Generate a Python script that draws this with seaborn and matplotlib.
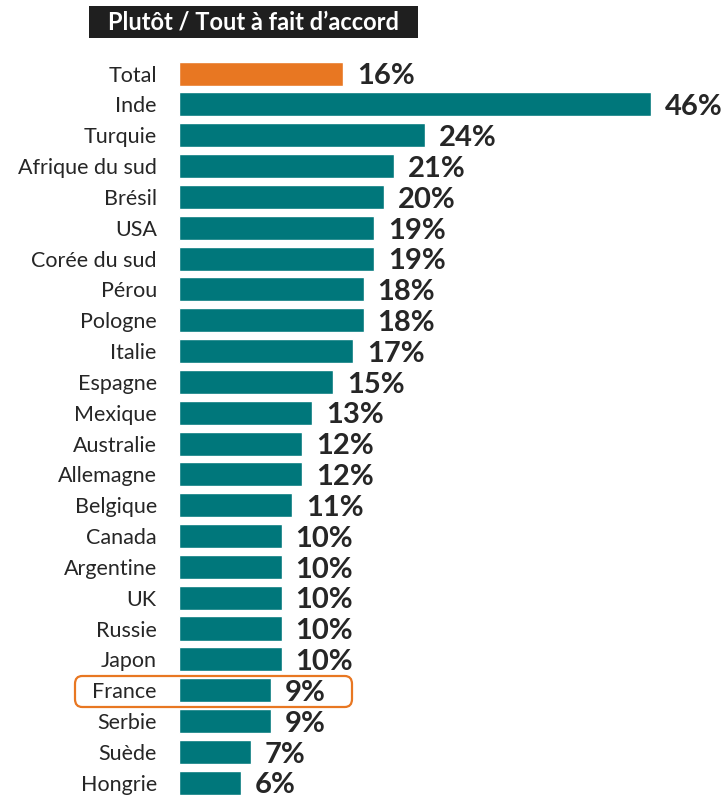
import matplotlib
matplotlib.use("Agg")
import matplotlib.pyplot as plt
from matplotlib.patches import FancyBboxPatch, Rectangle
import seaborn as sns
import pandas as pd

TITLE = "Plutôt / Tout à fait d’accord"
countries = ["Total", "Inde", "Turquie", "Afrique du sud", "Brésil", "USA", "Corée du sud",
             "Pérou", "Pologne", "Italie", "Espagne", "Mexique", "Australie", "Allemagne",
             "Belgique", "Canada", "Argentine", "UK", "Russie", "Japon", "France", "Serbie",
             "Suède", "Hongrie"]
values = [16, 46, 24, 21, 20, 19, 19, 18, 18, 17, 15, 13, 12, 12, 11, 10, 10, 10, 10, 10, 9, 9, 7, 6]

TEAL = "#00777B"
ORANGE = "#E87722"
TEXT = "#262626"

sns.set_style("white")
plt.rcParams['font.family'] = ['Lato', 'DejaVu Sans']

df = pd.DataFrame({'Pays': countries, 'Valeur': values})
palette = [ORANGE if c == "Total" else TEAL for c in countries]

fig = plt.figure(figsize=(7.25, 7.95), dpi=100)
ax = fig.add_axes([179 / 725, 0.0, 546 / 725, 0.9307])
sns.barplot(data=df, x='Valeur', y='Pays', hue='Pays', palette=palette, legend=False,
            width=0.78, saturation=1, ax=ax)

ax.set_xlim(0, 546 / 10.26)
ax.set_ylim(len(countries) - 0.6, -0.6)
ax.set_xticks([])
ax.set_xlabel("")
ax.set_ylabel("")
for s in ax.spines.values():
    s.set_visible(False)
ax.tick_params(axis='y', length=0, pad=16, labelsize=15.5, labelcolor=TEXT)

for i, v in enumerate(values):
    ax.annotate(f"{v}%", xy=(v, i), xytext=(10, -2), textcoords='offset points',
                ha='left', va='center', fontsize=21, fontweight='bold', color=TEXT)

# title box
fig.patches.append(Rectangle((89 / 725, 1 - 38 / 795), 329 / 725, 32 / 795,
                             transform=fig.transFigure, facecolor="#1F1F1F", edgecolor='none'))
fig.text(253.5 / 725, 1 - 22 / 795, TITLE, ha='center', va='center', color='white',
         fontsize=17, fontweight='bold')

# highlight France
fig.patches.append(FancyBboxPatch((75 / 725, 1 - 707 / 795), 277 / 725, 31 / 795,
                                  boxstyle="round,pad=0,rounding_size=0.01",
                                  transform=fig.transFigure, facecolor='none',
                                  edgecolor=ORANGE, linewidth=1.6))

fig.savefig("out.png", dpi=100)
